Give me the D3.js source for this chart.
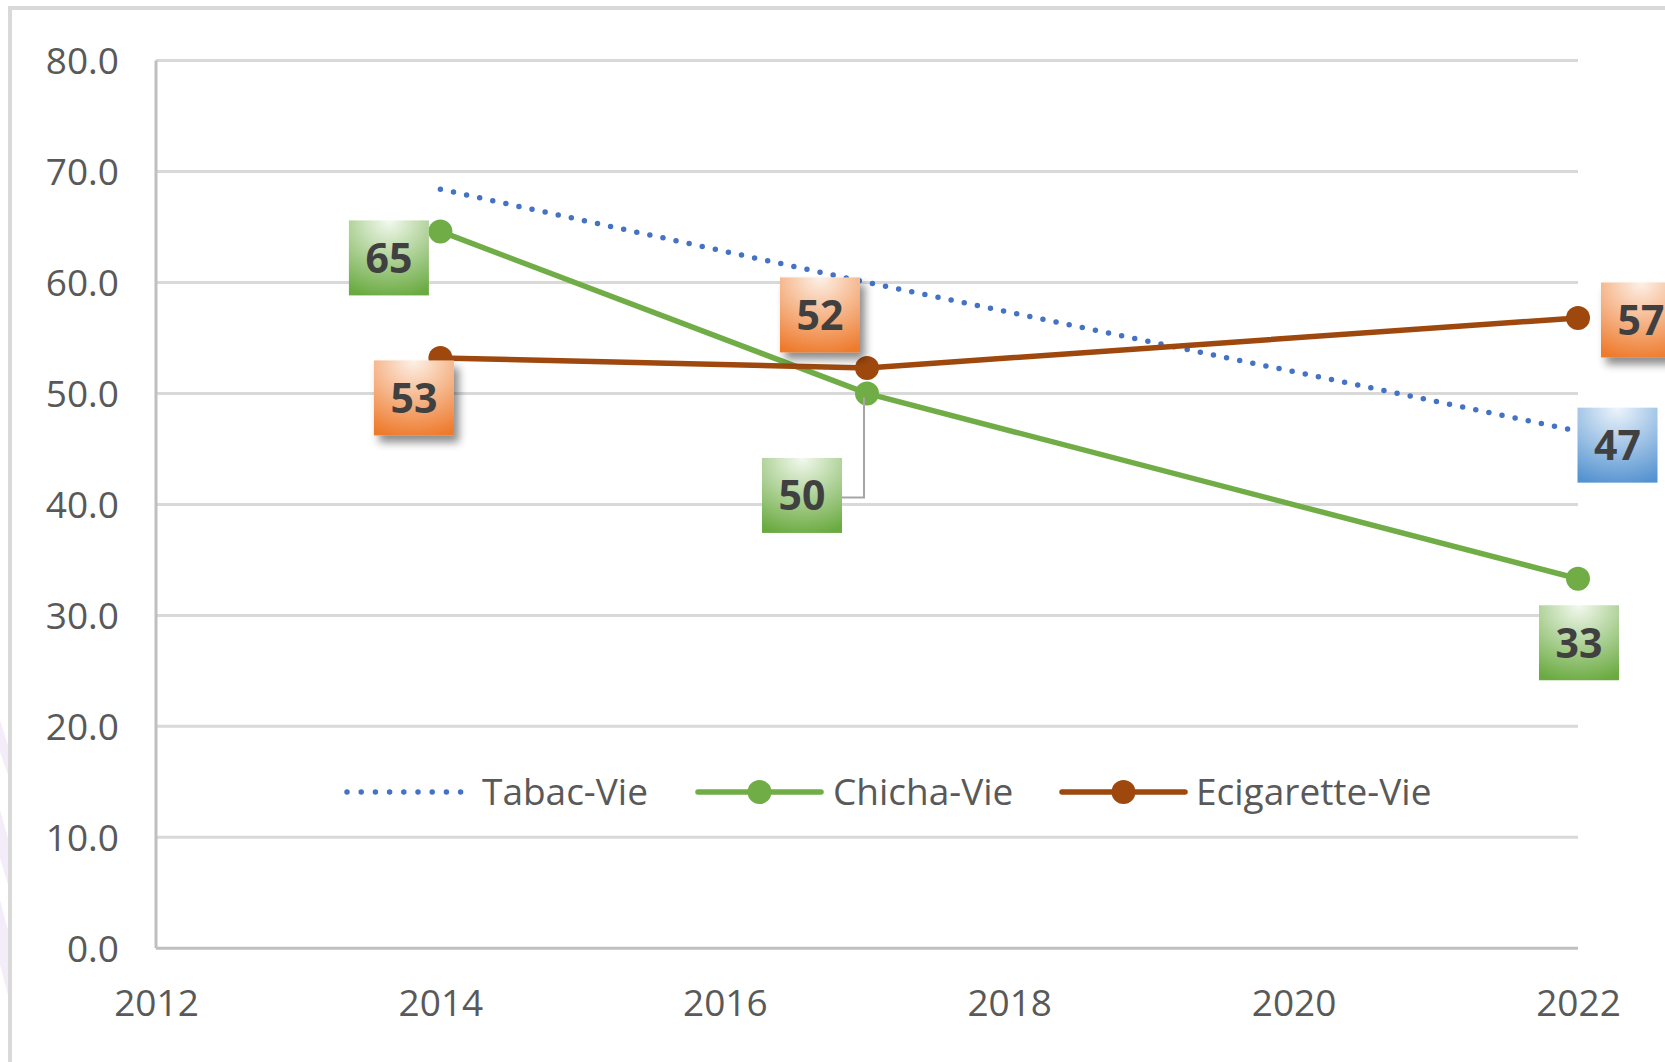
<!DOCTYPE html>
<html lang="fr">
<head>
    <meta charset="UTF-8">
    <script src="https://cdn.jsdelivr.net/npm/d3@7"></script>
    <title>Tabac / Chicha / Ecigarette</title>
    <style>
        html, body {
            margin: 0;
            padding: 0;
            background: #ffffff;
        }

        svg text {
            font-family: "Open Sans", sans-serif;
        }
    </style>
</head>
<body>
    <div id="chart"></div>

    <script>
        // data
        const years = [2014, 2017, 2022];
        const tabacVie = [68.4, 60.0, 46.6];
        const chichaVie = [64.6, 50.0, 33.3];
        const ecigaretteVie = [53.2, 52.3, 56.8];
        const seriesNames = ["Tabac-Vie", "Chicha-Vie", "Ecigarette-Vie"];
        const xTicks = [2012, 2014, 2016, 2018, 2020, 2022];
        const yTicks = [0, 10, 20, 30, 40, 50, 60, 70, 80];

        const width = 1665, height = 1062;

        const svg = d3.select("#chart").append("svg")
            .attr("width", width)
            .attr("height", height);

        const defs = svg.append("defs");

        // label box gradients (light top centre -> series colour)
        const makeGrad = (id, light, dark) => {
            const g = defs.append("radialGradient")
                .attr("id", id)
                .attr("cx", "50%").attr("cy", "0%")
                .attr("r", "105%")
                .attr("fx", "50%").attr("fy", "0%");
            g.append("stop").attr("offset", "0%").attr("stop-color", light);
            g.append("stop").attr("offset", "100%").attr("stop-color", dark);
        };
        makeGrad("gGreen", "#f3f9ef", "#6aaa40");
        makeGrad("gOrange", "#fdf1e8", "#ee7a2c");
        makeGrad("gBlue", "#eef5fc", "#5593d0");

        defs.append("filter")
            .attr("id", "shadow")
            .attr("x", "-30%").attr("y", "-30%")
            .attr("width", "170%").attr("height", "170%")
            .append("feDropShadow")
            .attr("dx", 5).attr("dy", 7)
            .attr("stdDeviation", 4)
            .attr("flood-color", "#000")
            .attr("flood-opacity", 0.45);

        // faint background shapes left of the frame
        svg.selectAll(".bgshape")
            .data([[0, 720, 8, 745, 8, 775, 0, 752], [0, 810, 8, 838, 8, 885, 0, 858], [0, 900, 8, 930, 8, 995, 0, 965]])
            .enter().append("polygon")
            .attr("points", d => d.join(","))
            .attr("fill", "#f4edf9");

        // chart frame
        svg.append("rect")
            .attr("x", 10).attr("y", 8)
            .attr("width", 1720).attr("height", 1120)
            .attr("fill", "none")
            .attr("stroke", "#d9d9d9")
            .attr("stroke-width", 4);

        const x = d3.scaleLinear().domain([2012, 2022]).range([156, 1578]);
        const y = d3.scaleLinear().domain([0, 80]).range([948.3, 60.5]);

        // gridlines
        svg.append("g").selectAll("line")
            .data(yTicks.filter(t => t > 0))
            .enter().append("line")
            .attr("x1", x(2012)).attr("x2", x(2022))
            .attr("y1", d => y(d)).attr("y2", d => y(d))
            .attr("stroke", "#d9d9d9")
            .attr("stroke-width", 3);

        // axis lines
        svg.append("line")
            .attr("x1", x(2012)).attr("x2", x(2012))
            .attr("y1", y(80)).attr("y2", y(0))
            .attr("stroke", "#bfbfbf").attr("stroke-width", 3);
        svg.append("line")
            .attr("x1", x(2012)).attr("x2", x(2022))
            .attr("y1", y(0)).attr("y2", y(0))
            .attr("stroke", "#bfbfbf").attr("stroke-width", 3);

        // tick labels via d3 axes
        const yAxis = svg.append("g")
            .attr("transform", `translate(${x(2012) - 37},0)`)
            .call(d3.axisLeft(y).tickValues(yTicks).tickSize(0).tickFormat(d3.format(".1f")));
        const xAxis = svg.append("g")
            .attr("transform", `translate(0,${y(0) + 55})`)
            .call(d3.axisBottom(x).tickValues(xTicks).tickSize(0).tickFormat(d3.format("d")));

        [yAxis, xAxis].forEach(a => {
            a.select(".domain").remove();
            a.selectAll("text")
                .attr("fill", "#595959")
                .style("font-size", "37px")
                .style("font-family", "'Open Sans', sans-serif");
        });
        yAxis.selectAll("text").attr("x", 0).attr("dy", "0.35em");
        xAxis.selectAll("text").attr("y", 0).attr("dy", "0.35em");

        const series = [
            { name: seriesNames[0], values: tabacVie, color: "#4472c4", dotted: true, marker: false },
            { name: seriesNames[1], values: chichaVie, color: "#70ad47", dotted: false, marker: true },
            { name: seriesNames[2], values: ecigaretteVie, color: "#9e480e", dotted: false, marker: true }
        ];

        const line = d3.line()
            .x(d => x(d[0]))
            .y(d => y(d[1]));

        series.forEach(s => {
            const pts = years.map((yr, i) => [yr, s.values[i]]);
            svg.append("path")
                .datum(pts)
                .attr("d", line)
                .attr("fill", "none")
                .attr("stroke", s.color)
                .attr("stroke-width", s.dotted ? 5.5 : 5.5)
                .attr("stroke-linecap", "round")
                .attr("stroke-linejoin", "round")
                .attr("stroke-dasharray", s.dotted ? "0 13.4" : null);
            if (s.marker) {
                svg.append("g").selectAll("circle")
                    .data(pts)
                    .enter().append("circle")
                    .attr("cx", d => x(d[0]))
                    .attr("cy", d => y(d[1]))
                    .attr("r", 12)
                    .attr("fill", s.color);
            }
        });

        // data label placement: [series index, year index, dx, dy, fill, shadow, leader]
        const labelLayout = [
            [1, 0, -51.5, 26.5, "gGreen", false, false],
            [1, 1, -65, 102, "gGreen", false, true],
            [1, 2, 1, 64, "gGreen", false, false],
            [2, 0, -26.5, 40, "gOrange", true, false],
            [2, 1, -47, -53, "gOrange", true, false],
            [2, 2, 63, 2, "gOrange", true, false],
            [0, 2, 39.5, 14, "gBlue", false, false]
        ];
        const boxW = 80, boxH = 75;

        labelLayout.forEach(([si, yi, dx, dy, fill, shadow, leader]) => {
            const v = series[si].values[yi];
            const px = x(years[yi]), py = y(v);
            const cx = px + dx, cy = py + dy;
            if (leader) {
                svg.append("path")
                    .attr("d", `M${cx + boxW / 2},${cy + 2} H${px - 3} V${py + 4}`)
                    .attr("fill", "none")
                    .attr("stroke", "#a6a6a6")
                    .attr("stroke-width", 2);
            }
            const g = svg.append("g");
            g.append("rect")
                .attr("x", cx - boxW / 2).attr("y", cy - boxH / 2)
                .attr("width", boxW).attr("height", boxH)
                .attr("fill", `url(#${fill})`)
                .attr("filter", shadow ? "url(#shadow)" : null);
            g.append("text")
                .attr("x", cx).attr("y", cy)
                .attr("dy", "0.36em")
                .attr("text-anchor", "middle")
                .attr("fill", "#404040")
                .style("font-size", "41px")
                .style("font-weight", 700)
                .text(d3.format(".0f")(v));
        });

        // legend
        const legendY = 792;
        const legendLayout = [
            { x1: 347, x2: 462, tx: 482 },
            { x1: 698, x2: 821, tx: 833 },
            { x1: 1062, x2: 1185, tx: 1196 }
        ];
        const legend = svg.append("g");
        series.forEach((s, i) => {
            const L = legendLayout[i];
            legend.append("line")
                .attr("x1", L.x1).attr("x2", L.x2)
                .attr("y1", legendY).attr("y2", legendY)
                .attr("stroke", s.color)
                .attr("stroke-width", 5.5)
                .attr("stroke-linecap", "round")
                .attr("stroke-dasharray", s.dotted ? "0 14.2" : null);
            if (s.marker) {
                legend.append("circle")
                    .attr("cx", (L.x1 + L.x2) / 2).attr("cy", legendY)
                    .attr("r", 12)
                    .attr("fill", s.color);
            }
            legend.append("text")
                .attr("x", L.tx).attr("y", legendY)
                .attr("dy", "0.35em")
                .attr("fill", "#595959")
                .style("font-size", "37px")
                .text(s.name);
        });
    </script>
</body>
</html>
